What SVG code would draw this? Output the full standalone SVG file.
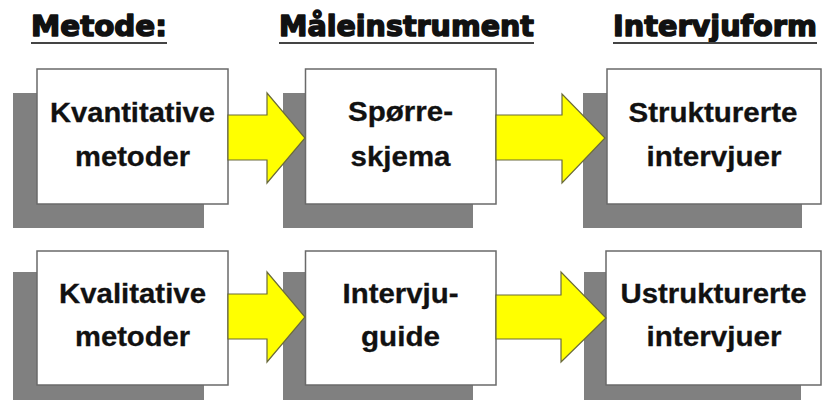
<svg xmlns="http://www.w3.org/2000/svg" width="822" height="400" viewBox="0 0 822 400">
<defs>
<style>
.hdr{font-family:"DejaVu Sans","Liberation Sans",sans-serif;font-weight:bold;font-size:29px;fill:#111;stroke:#111;stroke-width:1.5;stroke-linejoin:round}
.ul{stroke:#444;stroke-width:2.2}
.shadow{fill:#808080}
.box{fill:#fff;stroke:#6a6a6a;stroke-width:1.5}
.lbl{font-family:"Liberation Sans",Arial,sans-serif;font-weight:bold;font-size:28px;fill:#111;stroke:#111;stroke-width:0.3;text-anchor:middle}
.arrow{fill:#ffff00;stroke:#6b6b3a;stroke-width:1.2;stroke-linejoin:miter}
</style>
</defs>
<rect width="822" height="400" fill="#fff"/>
<g id="headers">
<text class="hdr" x="31" y="36" textLength="136" lengthAdjust="spacingAndGlyphs">Metode:</text>
<line class="ul" x1="31" y1="43" x2="167" y2="43"/>
<text class="hdr" x="279" y="36" textLength="255" lengthAdjust="spacingAndGlyphs">Måleinstrument</text>
<line class="ul" x1="279" y1="43" x2="534" y2="43"/>
<text class="hdr" x="613" y="36" textLength="204" lengthAdjust="spacingAndGlyphs">Intervjuform</text>
<line class="ul" x1="613" y1="43" x2="817" y2="43"/>
</g>
<g id="n1">
<rect class="shadow" x="13" y="93" width="191" height="135"/>
<rect class="box" x="37" y="69" width="191" height="135"/>
<text class="lbl" x="132.5" y="122" textLength="165" lengthAdjust="spacingAndGlyphs">Kvantitative</text>
<text class="lbl" x="132.5" y="166" textLength="115" lengthAdjust="spacingAndGlyphs">metoder</text>
</g>
<g id="n2">
<rect class="shadow" x="283" y="93" width="190" height="135"/>
<rect class="box" x="305.5" y="69" width="190.5" height="135"/>
<text class="lbl" x="400.5" y="121" textLength="105" lengthAdjust="spacingAndGlyphs">Spørre-</text>
<text class="lbl" x="400.5" y="166" textLength="100" lengthAdjust="spacingAndGlyphs">skjema</text>
</g>
<g id="n3">
<rect class="shadow" x="583" y="93" width="219" height="135"/>
<rect class="box" x="607" y="69" width="214" height="135"/>
<text class="lbl" x="713" y="122" textLength="169" lengthAdjust="spacingAndGlyphs">Strukturerte</text>
<text class="lbl" x="714" y="166" textLength="135" lengthAdjust="spacingAndGlyphs">intervjuer</text>
</g>
<g id="n4">
<rect class="shadow" x="13" y="272" width="191" height="135"/>
<rect class="box" x="37" y="251" width="191" height="134"/>
<text class="lbl" x="132.5" y="303" textLength="147" lengthAdjust="spacingAndGlyphs">Kvalitative</text>
<text class="lbl" x="132.5" y="346" textLength="115" lengthAdjust="spacingAndGlyphs">metoder</text>
</g>
<g id="n5">
<rect class="shadow" x="283" y="272" width="190" height="135"/>
<rect class="box" x="305.5" y="251" width="190.5" height="134"/>
<text class="lbl" x="400.5" y="303" textLength="116" lengthAdjust="spacingAndGlyphs">Intervju-</text>
<text class="lbl" x="400.5" y="346" textLength="79" lengthAdjust="spacingAndGlyphs">guide</text>
</g>
<g id="n6">
<rect class="shadow" x="584" y="272" width="217" height="135"/>
<rect class="box" x="606" y="251" width="215" height="134"/>
<text class="lbl" x="713.5" y="303" textLength="186" lengthAdjust="spacingAndGlyphs">Ustrukturerte</text>
<text class="lbl" x="714" y="346" textLength="135" lengthAdjust="spacingAndGlyphs">intervjuer</text>
</g>
<g id="connectors">
<polygon class="arrow" points="228,115 267,115 267,93 305,138 267,183 267,160 228,160"/>
<polygon class="arrow" points="496,115 562,115 562,94 605,138 562,183 562,160 496,160"/>
<polygon class="arrow" points="228,294 267,294 267,272 305,317 267,362 267,339 228,339"/>
<polygon class="arrow" points="496,295 561,295 561,272 606,318 561,362 561,339 496,339"/>
</g>
</svg>
